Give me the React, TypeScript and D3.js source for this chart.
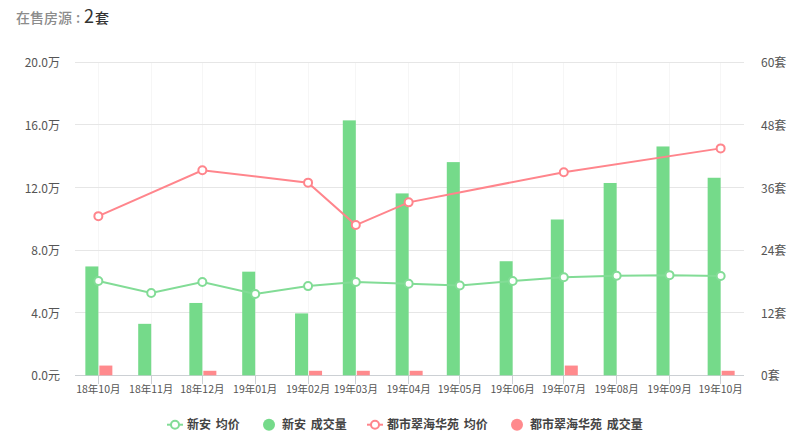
import React, { useEffect, useRef } from "react";
import * as d3 from "d3";

const months = ["2018-10", "2018-11", "2018-12", "2019-01", "2019-02", "2019-03", "2019-04", "2019-05", "2019-06", "2019-07", "2019-08", "2019-09", "2019-10"];

// 新安
const xinanPrice = [6.02, 5.26, 5.96, 5.19, 5.7, 5.96, 5.85, 5.74, 6.02, 6.26, 6.36, 6.4, 6.34];
const xinanVolume = [21, 10, 14, 20, 12, 49, 35, 41, 22, 30, 37, 44, 38];

// 都市翠海华苑, months with no deal have no price point
const dushiMonths = ["2018-10", "2018-12", "2019-02", "2019-03", "2019-04", "2019-07", "2019-10"];
const dushiPrice = [10.17, 13.1, 12.31, 9.6, 11.05, 12.98, 14.5];
const dushiVolume = [2, 1, 1, 1, 1, 2, 1];

const priceTicks = [0, 4, 8, 12, 16, 20];
const volumeTicks = [0, 12, 24, 36, 48, 60];

const GREEN = "#75da8a";
const RED = "#ff8a8d";
const FONT = "'Noto Sans CJK SC', 'Noto Sans', sans-serif";

const App: React.FC = () => {
  const svgRef = useRef<SVGSVGElement>(null);

  useEffect(() => {
    if (!svgRef.current) return;
    const svg = d3.select(svgRef.current);
    svg.selectAll("*").remove();

    const margin = { top: 62.3, right: 49, bottom: 66.7, left: 75 };
    const width = 793;
    const height = 442;
    const parse = d3.utcParse("%Y-%m");
    const date = (m: string) => parse(m) as Date;

    const x = d3
      .scaleUtc()
      .domain([
        new Date(date(months[0]).getTime() - 13.7 * 864e5),
        new Date(date(months[months.length - 1]).getTime() + 13.7 * 864e5),
      ])
      .range([margin.left, width - margin.right]);
    const yPrice = d3.scaleLinear().domain([0, 20]).range([height - margin.bottom, margin.top]);
    const yVolume = d3.scaleLinear().domain([0, 60]).range([height - margin.bottom, margin.top]);

    // Title
    const title = svg.append("text").attr("y", 23).attr("font-family", FONT);
    title.append("tspan").attr("x", 16).attr("font-size", 14).attr("font-weight", 500).attr("fill", "#8c8c8c").text("在售房源");
    title.append("tspan").attr("x", 76).attr("font-size", 14).attr("font-weight", 500).attr("fill", "#8c8c8c").text(":");
    title.append("tspan").attr("x", 84).attr("font-size", 18).attr("fill", "#333").text("2");
    title.append("tspan").attr("x", 95).attr("font-size", 14).attr("font-weight", 500).attr("fill", "#333").text("套");

    // Vertical grid
    svg
      .selectAll(".vgrid")
      .data(months)
      .enter()
      .append("line")
      .attr("x1", (d) => x(date(d)))
      .attr("x2", (d) => x(date(d)))
      .attr("y1", margin.top)
      .attr("y2", height - margin.bottom)
      .attr("stroke", "#f6f6f6")
      .attr("shape-rendering", "crispEdges");

    // Left axis, draws the horizontal grid too
    const left = svg
      .append("g")
      .attr("transform", `translate(${margin.left}, 0)`)
      .call(
        d3
          .axisLeft(yPrice)
          .tickValues(priceTicks)
          .tickSize(-(width - margin.left - margin.right))
          .tickPadding(15)
          .offset(0)
          .tickFormat((d) => (+d === 0 ? "0.0元" : `${(+d).toFixed(1)}万`))
      );
    left.select(".domain").remove();
    left.selectAll(".tick line").attr("stroke", "#e6e6e6").attr("shape-rendering", "crispEdges");

    // Right axis
    const right = svg
      .append("g")
      .attr("transform", `translate(${width - margin.right}, 0)`)
      .call(
        d3
          .axisRight(yVolume)
          .tickValues(volumeTicks)
          .tickSize(0)
          .tickPadding(17)
          .offset(0)
          .tickFormat((d) => `${d}套`)
      );
    right.select(".domain").remove();

    // Bottom axis
    const bottom = svg
      .append("g")
      .attr("transform", `translate(0, ${height - margin.bottom})`)
      .call(
        d3
          .axisBottom(x)
          .tickValues(months.map(date))
          .tickSize(9)
          .tickSizeOuter(0)
          .tickPadding(1)
          .offset(0)
          .tickFormat((d) => d3.utcFormat("%y年%m月")(d as Date))
      );
    bottom.select(".domain").attr("stroke", "#ccd0d4").attr("shape-rendering", "crispEdges");
    bottom.selectAll(".tick line").attr("stroke", "#ccd0d4").attr("shape-rendering", "crispEdges");

    for (const g of [left, right, bottom]) {
      g.attr("font-family", FONT);
      g.selectAll("text").attr("fill", "#555");
    }
    left.selectAll("text").attr("font-size", 12).attr("dy", "0.42em");
    right.selectAll("text").attr("font-size", 12).attr("dy", "0.42em");
    bottom.selectAll("text").attr("font-size", 10.5);

    // Bars, tops sit just under the value line
    const barWidth = 13;
    const barInset = 0.7;
    svg
      .selectAll(".bar-xinan")
      .data(months)
      .enter()
      .append("rect")
      .attr("x", (d) => x(date(d)) - barWidth)
      .attr("y", (_, i) => yVolume(xinanVolume[i]) + barInset)
      .attr("width", barWidth)
      .attr("height", (_, i) => yVolume(0) - yVolume(xinanVolume[i]) - barInset)
      .attr("fill", GREEN);

    svg
      .selectAll(".bar-dushi")
      .data(dushiMonths)
      .enter()
      .append("rect")
      .attr("x", (d) => x(date(d)) + 1)
      .attr("y", (_, i) => yVolume(dushiVolume[i]) + barInset)
      .attr("width", barWidth)
      .attr("height", (_, i) => yVolume(0) - yVolume(dushiVolume[i]) - barInset)
      .attr("fill", RED);

    // Lines with hollow markers
    const drawLine = (keys: string[], values: number[], color: string) => {
      const line = d3
        .line<string>()
        .x((d) => x(date(d)))
        .y((_, i) => yPrice(values[i]));
      svg
        .append("path")
        .attr("d", line(keys))
        .attr("fill", "none")
        .attr("stroke", color)
        .attr("stroke-width", 2);
      svg
        .append("g")
        .selectAll("circle")
        .data(keys)
        .enter()
        .append("circle")
        .attr("cx", (d) => x(date(d)))
        .attr("cy", (_, i) => yPrice(values[i]))
        .attr("r", 4)
        .attr("fill", "#fff")
        .attr("stroke", color)
        .attr("stroke-width", 2);
    };
    drawLine(months, xinanPrice, "#82dc96");
    drawLine(dushiMonths, dushiPrice, "#ff858c");

    // Legend
    const legend = svg
      .append("g")
      .attr("font-family", FONT)
      .attr("font-size", 12)
      .attr("font-weight", 700)
      .attr("fill", "#444")
      .attr("word-spacing", 2);
    const legendY = 424.7;
    const lineKey = (cx: number, color: string, label: string) => {
      legend.append("line").attr("x1", cx - 8).attr("x2", cx + 8).attr("y1", legendY).attr("y2", legendY).attr("stroke", color).attr("stroke-width", 2);
      legend.append("circle").attr("cx", cx).attr("cy", legendY).attr("r", 4).attr("fill", "#fff").attr("stroke", color).attr("stroke-width", 2);
      legend.append("text").attr("x", cx + 12).attr("y", legendY + 4).text(label);
    };
    const dotKey = (cx: number, color: string, label: string) => {
      legend.append("circle").attr("cx", cx).attr("cy", legendY).attr("r", 6).attr("fill", color);
      legend.append("text").attr("x", cx + 13).attr("y", legendY + 4).text(label);
    };
    lineKey(175, "#82dc96", "新安 均价");
    dotKey(269, GREEN, "新安 成交量");
    lineKey(375, "#ff858c", "都市翠海华苑 均价");
    dotKey(517, RED, "都市翠海华苑 成交量");
  }, []);

  return <svg ref={svgRef} width={793} height={442} style={{ position: "absolute", left: 0, top: 0, background: "#fff" }} />;
};

export default App;
